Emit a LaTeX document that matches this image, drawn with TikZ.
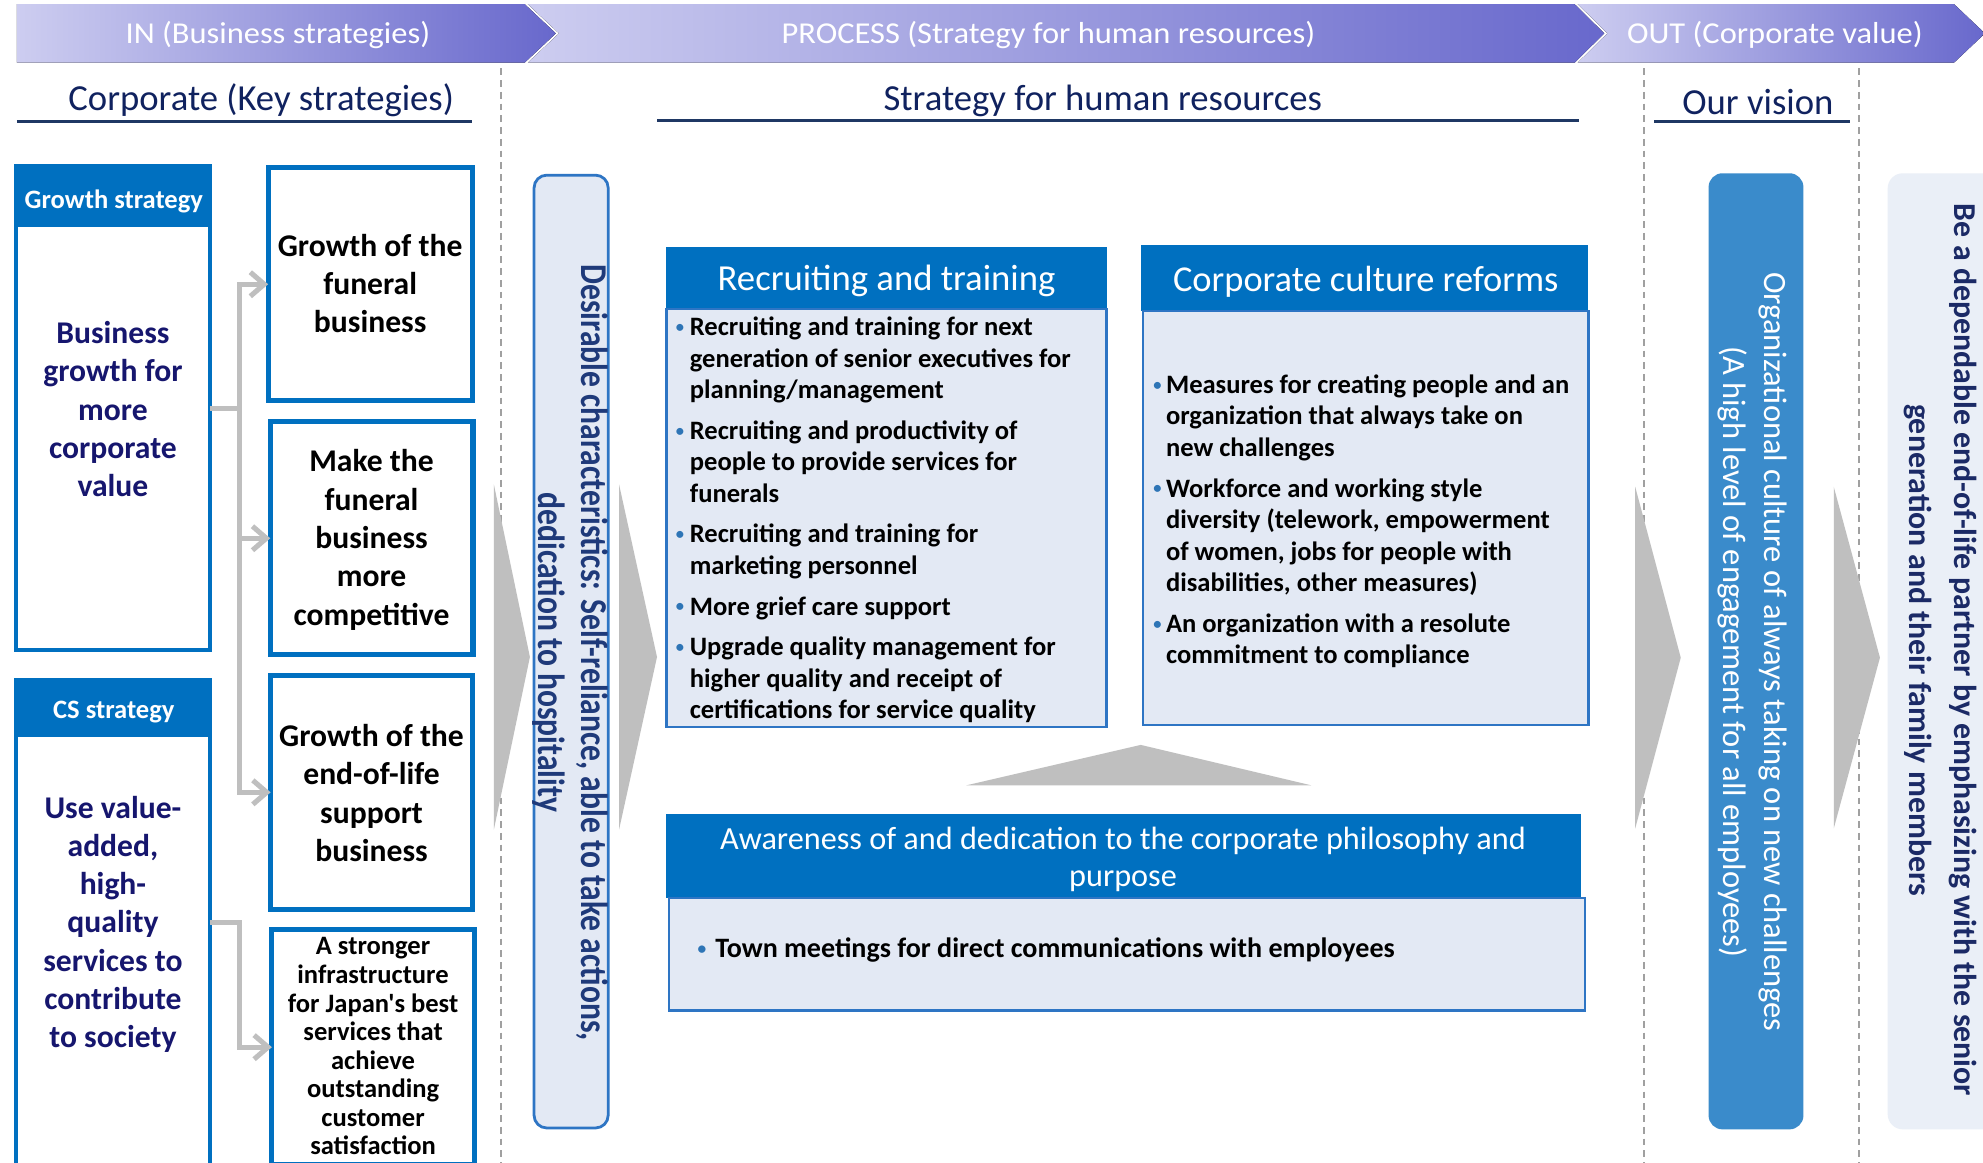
\documentclass[tikz,border=0pt]{standalone}
\usepackage{fontspec}
\setmainfont{Carlito}[Ligatures=TeXOff]
\usepackage{graphicx}
\usetikzlibrary{arrows.meta}
\definecolor{hdrblue}{HTML}{0070C0}
\definecolor{thinblue}{HTML}{2E75C4}
\definecolor{lightbody}{HTML}{E3E9F4}
\definecolor{arrowgray}{HTML}{BFBFBF}
\definecolor{orgblue}{HTML}{3A8BCB}
\definecolor{visionbg}{HTML}{EAEFF7}
\definecolor{headnavy}{HTML}{10225F}
\definecolor{linenavy}{HTML}{1F3864}
\definecolor{deepnavy}{HTML}{16166E}
\definecolor{desnavy}{HTML}{1F3A7A}
\definecolor{visnavy}{HTML}{1B2A66}
\definecolor{bannerL}{HTML}{CDCDF0}
\definecolor{bannerR}{HTML}{6868CC}
\definecolor{dashgray}{HTML}{A0A0A0}
\definecolor{bulblue}{HTML}{2E75B6}
\newcommand\bul[1]{\makebox[#1][l]{\hspace*{1pt}\textcolor{bulblue}{\raisebox{2.6pt}{\scalebox{0.62}{•}}}}}
\newcommand\mlines[1]{\begin{tabular}[t]{@{}c@{}}#1\end{tabular}}
\newcommand\blines[1]{\begin{tabular}[t]{@{}l@{}}#1\end{tabular}}
\tikzset{
  boxline/.style={draw=hdrblue, line width=3.5pt, fill=white},
  hdrfill/.style={fill=hdrblue, draw=none},
  bodybox/.style={fill=lightbody, draw=thinblue, line width=1.8pt},
  conn/.style={draw=arrowgray, line width=4pt},
  barbarrow/.style={-{Straight Barb[length=11pt,width=19pt]}},
  chev/.style={fill=arrowgray, draw=none},
  dashv/.style={draw=dashgray, line width=1.6pt, dash pattern=on 5.3pt off 4pt},
  banner/.style={left color=bannerL, right color=bannerR, draw=none},
  bannertxt/.style={anchor=base, text=white, font=\fontsize{24}{28}\selectfont},
  headtxt/.style={anchor=base, text=headnavy, font=\fontsize{29}{34}\selectfont},
  uline/.style={draw=linenavy, line width=2.2pt},
}
\begin{document}
\begin{tikzpicture}[x=1pt,y=-1pt,every node/.style={inner sep=0pt,outer sep=0pt}]
\useasboundingbox (0,0) rectangle (1568,919);
\clip (0,0) rectangle (1568,919);
\fill[white] (0,0) rectangle (1568,919);

% banners
\fill[banner] (13.4,3.2) -- (414.8,3.2) -- (439.5,26.4) -- (414.8,49.6) -- (13.4,49.6) -- cycle;
\fill[banner] (417.3,3.2) -- (1245,3.2) -- (1268.5,26.4) -- (1245,49.6) -- (417.3,49.6) -- (442,26.4) -- cycle;
\fill[banner] (1247.5,3.2) -- (1545,3.2) -- (1569.5,26.4) -- (1545,49.6) -- (1247.5,49.6) -- (1271,26.4) -- cycle;
\node[bannertxt] (inlbl) at (219.7,34.3) {\scalebox{1.07}[1]{IN (Business strategies)}};
\node[bannertxt] (proclbl) at (829,34.3) {\scalebox{1.07}[1]{PROCESS (Strategy for human resources)}};
\node[bannertxt] (outlbl) at (1403.4,34.3) {\scalebox{1.07}[1]{OUT (Corporate value)}};

% section headings
\node[headtxt] (corph) at (206.5,87) {Corporate (Key strategies)};
\draw[uline] (13.4,96) -- (373.5,96);
\node[headtxt] (hrh) at (872,87) {Strategy for human resources};
\draw[uline] (519.7,95) -- (1248.4,95);
\node[headtxt] (vish) at (1390,90.4) {Our vision};
\draw[uline] (1308,96.2) -- (1463,96.2);

% dashed separators
\draw[dashv] (396,54) -- (396,919);
\draw[dashv] (1299.8,54) -- (1299.8,919);
\draw[dashv] (1470,54) -- (1470,919);

% big chevrons
\fill[chev] (390.5,383) -- (419,519.5) -- (390.5,656) -- cycle;
\fill[chev] (489.5,383) -- (519.5,519.5) -- (489.5,656) -- cycle;
\fill[chev] (1293,385) -- (1329,520) -- (1293,655) -- cycle;
\fill[chev] (1450,385) -- (1486.5,520) -- (1450,655) -- cycle;

% left strategy boxes
\node[boxline, minimum width=153.5, minimum height=382.5, anchor=north west] (gs) at (12.5,131.5) {};
\fill[hdrfill] (12.5,131.5) rectangle (166,179.2);
\node[boxline, minimum width=153.5, minimum height=383.5, anchor=north west] (cs) at (12.5,538) {};
\fill[hdrfill] (12.5,538) rectangle (166,583);

% key strategy boxes
\node[boxline, line width=4pt, minimum width=161.6, minimum height=184.5, anchor=north west] (b1) at (212,132.5) {};
\node[boxline, line width=4pt, minimum width=160.3, minimum height=184.2, anchor=north west] (b2) at (213.7,333.5) {};
\node[boxline, line width=4pt, minimum width=159.6, minimum height=185, anchor=north west] (b3) at (214,534) {};
\node[boxline, line width=4pt, minimum width=160, minimum height=186, anchor=north west] (b4) at (215,735) {};

% connectors
\draw[conn] (gs.east) -- ++(23.3,0) coordinate (gj);
\draw[conn,barbarrow] (gj) |- (b1.west);
\draw[conn,barbarrow] (gj) |- (b2.west);
\draw[conn,barbarrow] (gj) |- (b3.west);
\draw[conn,barbarrow] (cs.east) -- ++(23.3,0) |- (b4.west);

% left texts
\node[anchor=base, text=white, font=\fontsize{21}{25}\selectfont\bfseries] (gsh) at (90,164.7) {Growth strategy};
\node[anchor=base, text=deepnavy, font=\fontsize{25}{30.3}\selectfont\bfseries] (gst) at (89.3,271.5) {\mlines{Business\\growth for\\more\\corporate\\value}};
\node[anchor=base, text=white, font=\fontsize{21}{25}\selectfont\bfseries] (csh) at (90,568.5) {CS strategy};
\node[anchor=base, text=deepnavy, font=\fontsize{25}{30.3}\selectfont\bfseries] (cst) at (89.3,646.8) {\mlines{Use value-\\added,\\high-\\quality\\services to\\contribute\\to society}};
\node[anchor=base, font=\fontsize{25}{30}\selectfont\bfseries] (b1t) at (292.7,203) {\mlines{Growth of the\\funeral\\business}};
\node[anchor=base, font=\fontsize{25}{30.3}\selectfont\bfseries] (b2t) at (293.8,373) {\mlines{Make the\\funeral\\business\\more\\competitive}};
\node[anchor=base, font=\fontsize{25}{30.3}\selectfont\bfseries] (b3t) at (293.8,590.4) {\mlines{Growth of the\\end-of-life\\support\\business}};
\node[anchor=base, font=\fontsize{21}{22.6}\selectfont\bfseries] (b4t) at (295,755) {\mlines{A stronger\\infrastructure\\for Japan's best\\services that\\achieve\\outstanding\\customer\\satisfaction}};

% desirable characteristics bar
\node[fill=lightbody, draw=thinblue, line width=2.2pt, rounded corners=10pt, minimum width=58.6, minimum height=753.4, anchor=north west] (des) at (422.3,138.5) {};
\node[rotate=-90, anchor=base, text=desnavy, font=\fontsize{25}{28.3}\selectfont\bfseries] (destxt) at (459.5,516) {\scalebox{1}[1.2]{\mlines{Desirable characteristics: Self-reliance, able to take actions,\\dedication to hospitality}}};

% recruiting and training
\node[hdrfill, minimum width=348, minimum height=49.3, anchor=north west] (rth) at (527,195) {};
\node[bodybox, minimum width=348, minimum height=330.7, anchor=north west] (rtb) at (527,244.3) {};
\node[anchor=base, text=white, font=\fontsize{29}{34}\selectfont] (rtht) at (701,229.8) {Recruiting and training};
\node[anchor=base west, font=\fontsize{21}{24.8}\selectfont\bfseries] (rtlist) at (533.5,265.5) {\blines{%
\bul{12pt}Recruiting and training for next\\
\hspace*{12pt}generation of senior executives for\\
\hspace*{12pt}planning/management\\[7.5pt]
\bul{12pt}Recruiting and productivity of\\
\hspace*{12pt}people to provide services for\\
\hspace*{12pt}funerals\\[7.5pt]
\bul{12pt}Recruiting and training for\\
\hspace*{12pt}marketing personnel\\[7.5pt]
\bul{12pt}More grief care support\\[7.5pt]
\bul{12pt}Upgrade quality management for\\
\hspace*{12pt}higher quality and receipt of\\
\hspace*{12pt}certifications for service quality}};

% corporate culture reforms
\node[hdrfill, minimum width=354, minimum height=52, anchor=north west] (cch) at (902,194) {};
\node[bodybox, minimum width=352.5, minimum height=327, anchor=north west] (ccb) at (903.5,246) {};
\node[anchor=base, text=white, font=\fontsize{28.8}{34}\selectfont] (ccht) at (1079.9,230.8) {Corporate culture reforms};
\node[anchor=base west, font=\fontsize{21}{25}\selectfont\bfseries] (cclist) at (911,311) {\blines{%
\bul{11pt}Measures for creating people and an\\
\hspace*{11pt}organization that always take on\\
\hspace*{11pt}new challenges\\[7pt]
\bul{11pt}Workforce and working style\\
\hspace*{11pt}diversity (telework, empowerment\\
\hspace*{11pt}of women, jobs for people with\\
\hspace*{11pt}disabilities, other measures)\\[7pt]
\bul{11pt}An organization with a resolute\\
\hspace*{11pt}commitment to compliance}};

% triangle
\fill[chev] (764,621) -- (902,589) -- (1037,621) -- cycle;

% awareness
\node[hdrfill, minimum width=723, minimum height=66, anchor=north west] (awh) at (527,644) {};
\node[bodybox, minimum width=724, minimum height=89, anchor=north west] (awb) at (529,710) {};
\node[anchor=base, text=white, font=\fontsize{25.5}{29.5}\selectfont] (awht) at (888,671.5) {\mlines{Awareness of and dedication to the corporate philosophy and\\purpose}};
\node[anchor=base west, font=\fontsize{22.2}{26}\selectfont\bfseries] (awt) at (550.6,757.4) {\bul{15pt}Town meetings for direct communications with employees};

% organizational culture
\node[fill=orgblue, rounded corners=11pt, minimum width=75, minimum height=756, anchor=north west] (org) at (1351,137) {};
\node[rotate=-90, anchor=base, text=white, font=\fontsize{25.7}{33}\selectfont] (orgtxt) at (1395.6,515.5) {\mlines{Organizational culture of always taking on new challenges\\(A high level of engagement for all employees)}};

% vision
\node[fill=visionbg, rounded corners=12pt, minimum width=110, minimum height=756, anchor=north west] (vis) at (1492.6,137) {};
\node[rotate=-90, anchor=base, text=visnavy, font=\fontsize{25.2}{36}\selectfont\bfseries] (vistxt) at (1545.5,514) {\mlines{Be a dependable end-of-life partner by emphasizing with the senior\\generation and their family members}};
\end{tikzpicture}
\end{document}
